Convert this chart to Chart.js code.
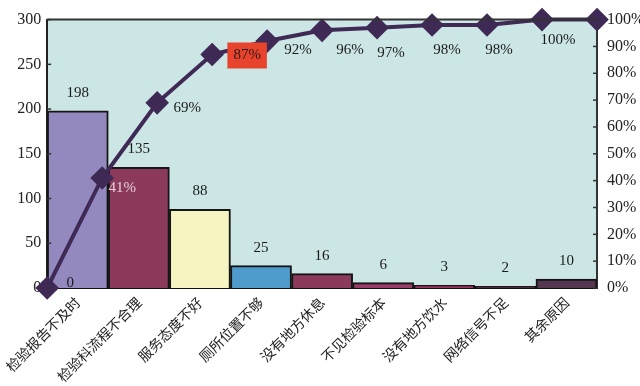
<!DOCTYPE html>
<html>
<head>
<meta charset="utf-8">
<script src="https://cdn.jsdelivr.net/npm/chart.js@4.4.1/dist/chart.umd.min.js"></script>
<style>
html,body{margin:0;padding:0;background:#fff;}
#wrap{width:640px;height:386px;position:relative;}
</style>
</head>
<body>
<div id="wrap"><canvas id="c" width="640" height="386"></canvas></div>
<script>
// ---- data ----
const categories = ['检验报告不及时','检验科流程不合理','服务态度不好','厕所位置不够','没有地方休息','不见检验标本','没有地方饮水','网络信号不足','其余原因'];
const counts = [198, 135, 88, 25, 16, 6, 3, 2, 10];
const cumulativePct = [0, 41, 69, 87, 92, 96, 97, 98, 98, 100, 100];
const pctLabels = ['0', '41%', '69%', '87%', '92%', '96%', '97%', '98%', '98%', '100%', ''];
const countAxisMax = 300, countStep = 50;
const pctAxisMax = 100, pctStep = 10;

// ---- styles ----
const barColors = ['#9489bf','#8c3a5c','#f6f4c0','#4f9ccc','#8c3a5c','#9a3c68','#a03264','#4a2a3c','#55364f'];
const lineColor = '#3e2a55';
const plotBg = '#cce6e6';
const serif = '"Liberation Serif","DejaVu Serif",serif';
const cjk = '"Noto Sans CJK SC","Noto Sans CJK JP",sans-serif';
const pctNudge = [[23,-5],[20,10],[30,5],[35,1],[31,9],[28,20],[14,25],[15,25],[12,25],[16,20],[0,0]];
const highlightIndex = 3;

const labelPlugin = {
  id: 'labels',
  beforeDraw(chart) {
    const {ctx, chartArea: a} = chart;
    ctx.save();
    ctx.fillStyle = plotBg;
    ctx.fillRect(a.left, a.top, a.right - a.left, a.bottom - a.top);
    ctx.restore();
  },
  afterDatasetsDraw(chart) {
    const {ctx, chartArea: a} = chart;
    ctx.save();
    // top border
    ctx.strokeStyle = '#333';
    ctx.lineWidth = 2;
    ctx.beginPath(); ctx.moveTo(a.left, a.top); ctx.lineTo(a.right, a.top); ctx.stroke();
    // inward tick marks
    ctx.lineWidth = 1.5;
    const y = chart.scales.y, y2 = chart.scales.y2;
    y.ticks.forEach(t => { const py = y.getPixelForValue(t.value); ctx.beginPath(); ctx.moveTo(a.left, py); ctx.lineTo(a.left + 4, py); ctx.stroke(); });
    y2.ticks.forEach(t => { const py = y2.getPixelForValue(t.value); ctx.beginPath(); ctx.moveTo(a.right, py); ctx.lineTo(a.right - 4, py); ctx.stroke(); });

    // bar value labels
    ctx.font = '15px ' + serif;
    ctx.fillStyle = '#1a1a1a';
    ctx.textAlign = 'center';
    ctx.textBaseline = 'middle';
    const barMeta = chart.getDatasetMeta(0);
    barMeta.data.forEach((bar, i) => {
      ctx.fillText(String(counts[i]), bar.x, bar.y - 18);
    });
    // cumulative % labels
    const lineMeta = chart.getDatasetMeta(1);
    lineMeta.data.forEach((pt, i) => {
      const txt = pctLabels[i];
      if (!txt) return;
      const lx = pt.x + pctNudge[i][0], ly = pt.y + pctNudge[i][1];
      if (i === highlightIndex) {
        const w = ctx.measureText(txt).width + 12;
        ctx.fillStyle = '#e8432c';
        ctx.fillRect(lx - w / 2, ly - 13, w, 26);
        ctx.fillStyle = '#2a1a1a';
      } else if (i === 1) {
        ctx.fillStyle = '#e6cdd8';
      } else {
        ctx.fillStyle = '#1a1a1a';
      }
      ctx.fillText(txt, lx, ly);
    });
    ctx.restore();
  }
};

new Chart(document.getElementById('c'), {
  type: 'bar',
  data: {
    labels: categories,
    datasets: [
      {
        type: 'bar',
        data: counts,
        backgroundColor: barColors,
        borderColor: '#151515',
        borderWidth: 2,
        borderSkipped: 'bottom',
        barPercentage: 1,
        categoryPercentage: 1,
        grouped: false,
        xAxisID: 'x',
        yAxisID: 'y',
        order: 2
      },
      {
        type: 'line',
        data: cumulativePct.map((v, i) => ({x: i, y: v})),
        borderColor: lineColor,
        backgroundColor: lineColor,
        borderWidth: 4,
        pointStyle: 'rectRot',
        pointRadius: 9,
        pointBackgroundColor: lineColor,
        pointBorderColor: lineColor,
        tension: 0,
        clip: false,
        xAxisID: 'x2',
        yAxisID: 'y2',
        order: 1
      }
    ]
  },
  options: {
    responsive: false,
    animation: false,
    events: [],
    layout: {padding: {top: 13, left: 0, right: 0, bottom: 0}},
    plugins: {legend: {display: false}, tooltip: {enabled: false}},
    scales: {
      x: {
        type: 'category',
        position: 'bottom',
        offset: true,
        grid: {display: false, drawTicks: false},
        border: {display: true, color: '#111', width: 2},
        ticks: {
          autoSkip: false, minRotation: 45, maxRotation: 45, padding: 6,
          color: '#222', font: {family: cjk, size: 14}
        },
        afterFit(s) { s.height = 98; }
      },
      x2: {
        type: 'linear', min: 0, max: cumulativePct.length - 1, display: false,
        offset: false, grid: {offset: false}
      },
      y: {
        position: 'left', min: 0, max: countAxisMax,
        grid: {display: false, drawTicks: false},
        border: {display: true, color: '#222', width: 2},
        ticks: {stepSize: countStep, padding: 6, color: '#222', font: {family: serif, size: 16}},
        afterFit(s) { s.width = 44; }
      },
      y2: {
        position: 'right', min: 0, max: pctAxisMax,
        grid: {display: false, drawTicks: false},
        border: {display: true, color: '#333', width: 2},
        ticks: {stepSize: pctStep, padding: 10, color: '#222', font: {family: serif, size: 16}, callback: v => v + '%'},
        afterFit(s) { s.width = 43; }
      }
    }
  },
  plugins: [labelPlugin]
});
</script>
</body>
</html>
